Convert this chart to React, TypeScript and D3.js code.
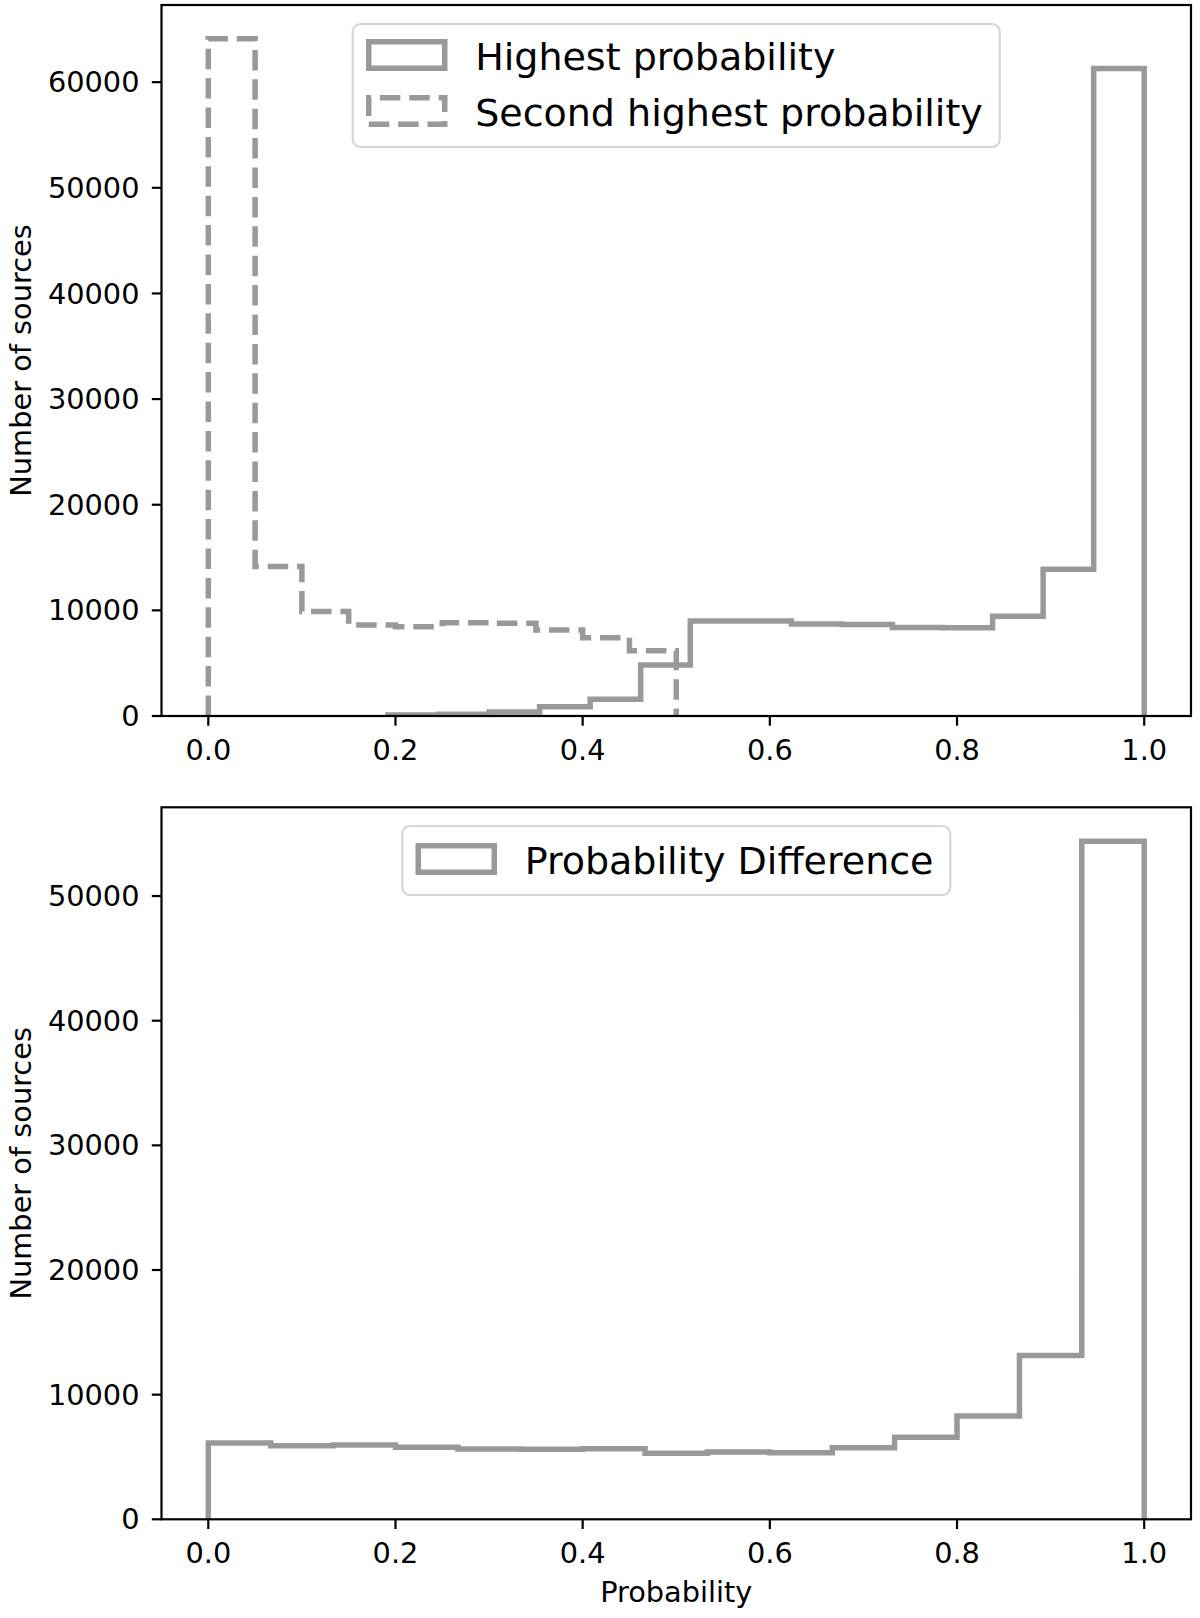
import * as d3 from 'd3'

// histogram bin edges and counts
const highestEdges = [0.192, 0.246, 0.3, 0.354, 0.408, 0.462, 0.515, 0.569, 0.623, 0.677, 0.731, 0.785, 0.838, 0.892, 0.946, 1.0]
const highestCounts = [90, 160, 380, 880, 1580, 4830, 9000, 9000, 8700, 8650, 8380, 8350, 9450, 13900, 61300]

const secondEdges = [0.0, 0.05, 0.1, 0.15, 0.2, 0.25, 0.3, 0.35, 0.4, 0.45, 0.5]
const secondCounts = [64100, 14150, 9900, 8610, 8450, 8830, 8770, 8140, 7410, 6180]

const diffEdges = [0.0, 0.0667, 0.1333, 0.2, 0.2667, 0.3333, 0.4, 0.4667, 0.5333, 0.6, 0.6667, 0.7333, 0.8, 0.8667, 0.9333, 1.0]
const diffCounts = [6120, 5905, 5960, 5775, 5640, 5615, 5665, 5290, 5400, 5345, 5745, 6575, 8290, 13150, 54400]

const xTicks = [0.0, 0.2, 0.4, 0.6, 0.8, 1.0]
const topYTicks = [0, 10000, 20000, 30000, 40000, 50000, 60000]
const bottomYTicks = [0, 10000, 20000, 30000, 40000, 50000]

const W = 1200
const H = 1618
const FONT = '"DejaVu Sans", "Noto Sans", sans-serif'
const GREY = '#999999'
const LEFT = 161.5
const RIGHT = 1191
const CX = (LEFT + RIGHT) / 2
const LW = 5.5
const DASH = '20.5 8.9'
const TICK_FS = 28.8
const LEGEND_FS = 38

interface Series {
  edges: number[]
  counts: number[]
  dashed?: boolean
}

interface LegendSpec {
  y: number
  width: number
  height: number
  entries: { label: string; dashed?: boolean; cy: number }[]
}

// outline of a step histogram (no bottom edge), like histtype='step'
function stepPoints(edges: number[], counts: number[]): [number, number][] {
  const pts: [number, number][] = [[edges[0], 0]]
  counts.forEach((c, i) => {
    pts.push([edges[i], c])
    pts.push([edges[i + 1], c])
  })
  pts.push([edges[edges.length - 1], 0])
  return pts
}

function Panel({ id, top, bottom, series, yTicks, legend, xLabel }: {
  id: string
  top: number
  bottom: number
  series: Series[]
  yTicks: number[]
  legend: LegendSpec
  xLabel?: string
}) {
  const x = d3.scaleLinear().domain([-0.05, 1.05]).range([LEFT, RIGHT])
  const yMax = d3.max(series, s => d3.max(s.counts)) as number
  const y = d3.scaleLinear().domain([0, yMax * 1.05]).range([bottom, top])

  const line = d3.line<[number, number]>()
    .x(d => x(d[0]))
    .y(d => y(d[1]))

  const midY = (top + bottom) / 2
  const lx = CX - legend.width / 2

  return (
    <g>
      <defs>
        <clipPath id={id}>
          <rect x={LEFT} y={top} width={RIGHT - LEFT} height={bottom - top} />
        </clipPath>
      </defs>

      <g clipPath={`url(#${id})`}>
        {series.map((s, i) => (
          <path
            key={i}
            d={line(stepPoints(s.edges, s.counts)) as string}
            fill="none"
            stroke={GREY}
            strokeWidth={LW}
            strokeLinejoin="miter"
            strokeDasharray={s.dashed ? DASH : undefined}
          />
        ))}
      </g>

      {/* spines */}
      <rect x={LEFT} y={top} width={RIGHT - LEFT} height={bottom - top} fill="none" stroke="#000" strokeWidth={2.2} />

      {/* x ticks */}
      {xTicks.map(t => (
        <g key={t} transform={`translate(${x(t)},${bottom})`}>
          <line y1={0} y2={9.7} stroke="#000" strokeWidth={2.2} />
          <text y={44} textAnchor="middle" fontSize={TICK_FS} fontFamily={FONT} fill="#000">
            {t.toFixed(1)}
          </text>
        </g>
      ))}

      {/* y ticks */}
      {yTicks.map(t => (
        <g key={t} transform={`translate(${LEFT},${y(t)})`}>
          <line x1={0} x2={-9.7} stroke="#000" strokeWidth={2.2} />
          <text x={-22} dy="0.35em" textAnchor="end" fontSize={TICK_FS} fontFamily={FONT} fill="#000">
            {t}
          </text>
        </g>
      ))}

      <text
        transform={`translate(31,${midY}) rotate(-90)`}
        textAnchor="middle"
        fontSize={TICK_FS}
        fontFamily={FONT}
        fill="#000"
      >
        Number of sources
      </text>

      {xLabel && (
        <text x={CX} y={bottom + 83} textAnchor="middle" fontSize={TICK_FS} fontFamily={FONT} fill="#000">
          {xLabel}
        </text>
      )}

      {/* legend */}
      <g>
        <rect
          x={lx}
          y={legend.y}
          width={legend.width}
          height={legend.height}
          rx={7.6}
          fill="#fff"
          fillOpacity={0.8}
          stroke="#cccccc"
          strokeOpacity={0.8}
          strokeWidth={2.2}
        />
        {legend.entries.map(e => {
          const hx = lx + 16
          const hw = 76
          const hh = 26.6
          const y0 = e.cy - hh / 2
          const y1 = e.cy + hh / 2
          return (
            <g key={e.label}>
              <path
                d={`M${hx},${y1}H${hx + hw}V${y0}H${hx}Z`}
                fill="none"
                stroke={GREY}
                strokeWidth={LW}
                strokeDasharray={e.dashed ? DASH : undefined}
              />
              <text x={hx + hw + 30.4} y={e.cy + 14.5} fontSize={LEGEND_FS} fontFamily={FONT} fill="#000">
                {e.label}
              </text>
            </g>
          )
        })}
      </g>
    </g>
  )
}

export default function App() {
  return (
    <div style={{ position: 'absolute', left: 0, top: 0 }}>
      <svg width={W} height={H} viewBox={`0 0 ${W} ${H}`} style={{ display: 'block', background: '#fff' }}>
        <rect width={W} height={H} fill="#fff" />
        <Panel
          id="clip-top"
          top={5}
          bottom={716}
          series={[
            { edges: highestEdges, counts: highestCounts },
            { edges: secondEdges, counts: secondCounts, dashed: true },
          ]}
          yTicks={topYTicks}
          legend={{
            y: 24,
            width: 647,
            height: 123,
            entries: [
              { label: 'Highest probability', cy: 55 },
              { label: 'Second highest probability', dashed: true, cy: 111 },
            ],
          }}
        />
        <Panel
          id="clip-bottom"
          top={807.3}
          bottom={1519.3}
          series={[{ edges: diffEdges, counts: diffCounts }]}
          yTicks={bottomYTicks}
          legend={{
            y: 826,
            width: 548,
            height: 69,
            entries: [{ label: 'Probability Difference', cy: 859 }],
          }}
          xLabel="Probability"
        />
      </svg>
    </div>
  )
}
